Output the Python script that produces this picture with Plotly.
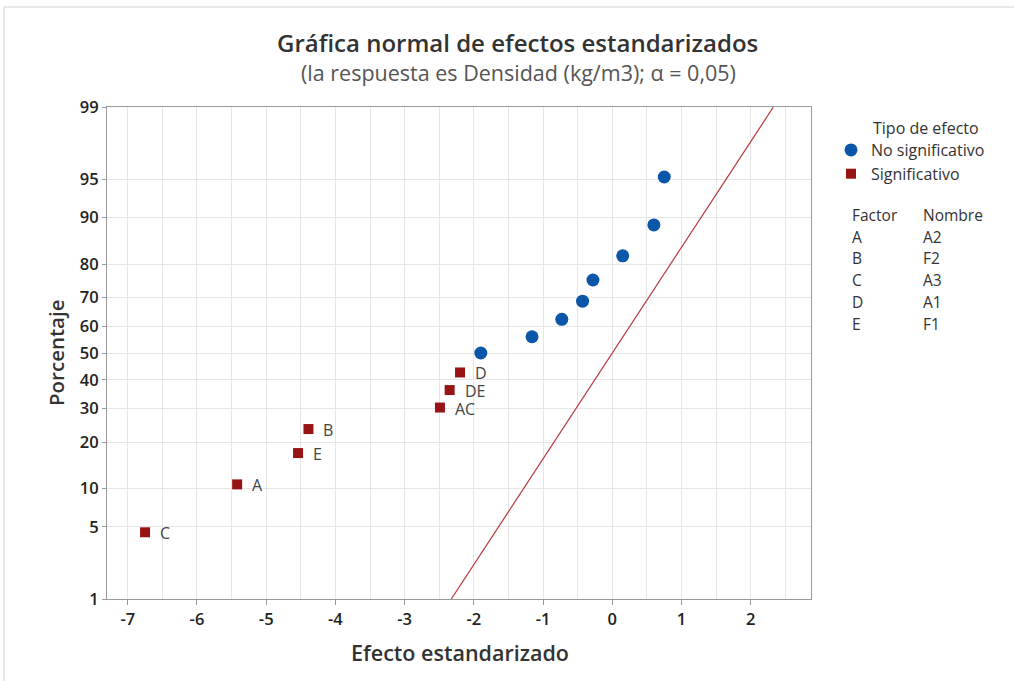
from statistics import NormalDist
import plotly.graph_objects as go

# Standardized effects (x) and their normal plotting positions (%)
effects_ns = [-1.90, -1.16, -0.73, -0.43, -0.28, 0.15, 0.60, 0.75]
pct_ns = [50.0, 56.1, 62.5, 68.8, 75.5, 82.1, 88.7, 95.2]

effects_sig = [-6.75, -5.42, -4.54, -4.39, -2.49, -2.35, -2.20]
pct_sig = [4.5, 10.7, 17.2, 23.6, 30.3, 36.3, 42.7]
labels_sig = ["C", "A", "E", "B", "AC", "DE", "D"]

# Reference line: standard normal (mean 0, sd 1)
line_pct = [1, 99]

y_ticks = [1, 5, 10, 20, 30, 40, 50, 60, 70, 80, 90, 95, 99]
x_ticks = [-7, -6, -5, -4, -3, -2, -1, 0, 1, 2]

factors = ["A", "B", "C", "D", "E"]
names = ["A2", "F2", "A3", "A1", "F1"]

nd = NormalDist()


def probit(p):
    return nd.inv_cdf(p / 100.0)


W, H = 1014, 681
L, R, T, B = 107, 811, 107, 599


def px(x):
    return (x - L) / (R - L)


def py(y):
    return (B - y) / (B - T)


FONT = "Open Sans"
BLUE = "#0A56A8"
RED = "#981414"
TXT = "#333333"

fig = go.Figure()

line_z = [probit(p) for p in line_pct]
fig.add_trace(go.Scatter(
    x=line_z, y=line_z, mode="lines",
    line=dict(color="#B8393C", width=1.2),
    showlegend=False, hoverinfo="skip",
))

fig.add_trace(go.Scatter(
    x=effects_ns, y=[probit(p) for p in pct_ns], mode="markers",
    marker=dict(symbol="circle", size=13, color=BLUE),
    name="No significativo",
))

fig.add_trace(go.Scatter(
    x=effects_sig, y=[probit(p) for p in pct_sig], mode="markers",
    marker=dict(symbol="square", size=10, color=RED),
    name="Significativo",
))

annotations = []
for ex, p, lab in zip(effects_sig, pct_sig, labels_sig):
    annotations.append(dict(
        x=ex, y=probit(p), xref="x", yref="y", text=lab, showarrow=False,
        xanchor="left", yanchor="middle", xshift=13, yshift=-1,
        font=dict(family=FONT, size=16, color="#444444"),
    ))

# Titles
annotations.append(dict(
    x=px(517), y=py(43), xref="paper", yref="paper", showarrow=False,
    text="Gráfica normal de efectos estandarizados",
    font=dict(family=FONT, size=24, color=TXT, weight=600),
    xanchor="center", yanchor="middle",
))
annotations.append(dict(
    x=px(518), y=py(72), xref="paper", yref="paper", showarrow=False,
    text="(la respuesta es Densidad (kg/m3); α = 0,05)",
    font=dict(family=FONT, size=21.5, color="#555555"),
    xanchor="center", yanchor="middle",
))
annotations.append(dict(
    x=px(56), y=py(353), xref="paper", yref="paper", showarrow=False,
    text="Porcentaje", textangle=-90,
    font=dict(family=FONT, size=20.5, color=TXT, weight=600),
    xanchor="center", yanchor="middle",
))
annotations.append(dict(
    x=px(460), y=py(652), xref="paper", yref="paper", showarrow=False,
    text="Efecto estandarizado",
    font=dict(family=FONT, size=21.5, color=TXT, weight=600),
    xanchor="center", yanchor="middle",
))

# Legend title and factor table
annotations.append(dict(
    x=px(871), y=py(128), xref="paper", yref="paper", showarrow=False,
    text="Tipo de efecto", xanchor="left", yanchor="middle",
    font=dict(family=FONT, size=16, color=TXT),
))
table_rows = [("Factor", "Nombre")] + list(zip(factors, names))
for i, (f, n) in enumerate(table_rows):
    yy = 215 + i * 21.7
    annotations.append(dict(
        x=px(850), y=py(yy), xref="paper", yref="paper", showarrow=False,
        text=f, xanchor="left", yanchor="middle",
        font=dict(family=FONT, size=15.5, color=TXT),
    ))
    annotations.append(dict(
        x=px(921), y=py(yy), xref="paper", yref="paper", showarrow=False,
        text=n, xanchor="left", yanchor="middle",
        font=dict(family=FONT, size=15.5, color=TXT),
    ))

shapes = [dict(
    type="rect", xref="paper", yref="paper",
    x0=px(4), x1=px(1030), y0=py(700), y1=py(7),
    line=dict(color="#D4D4D4", width=1), fillcolor="rgba(0,0,0,0)", layer="below",
)]

fig.update_layout(
    width=W, height=H,
    margin=dict(l=L, r=W - R, t=T, b=H - B),
    paper_bgcolor="white", plot_bgcolor="white",
    font=dict(family=FONT, size=14, color="#222222"),
    showlegend=True,
    legend=dict(
        x=px(831), y=py(133), xanchor="left", yanchor="top",
        font=dict(family=FONT, size=16, color=TXT),
        bgcolor="rgba(0,0,0,0)", borderwidth=0, tracegroupgap=0,
        itemsizing="trace",
    ),
    annotations=annotations,
    shapes=shapes,
    xaxis=dict(
        range=[-7.3, 2.87], tickvals=x_ticks, ticktext=[str(v) for v in x_ticks],
        showgrid=True, gridcolor="#E6E6E6", gridwidth=1,
        minor=dict(dtick=0.5, tick0=0, showgrid=True, gridcolor="#E6E6E6", ticklen=0),
        showline=True, linecolor="#9A9A9A", linewidth=1, mirror=True,
        ticks="outside", ticklen=5, tickcolor="#9A9A9A",
        tickfont=dict(family=FONT, size=16.5, color="#222222", weight=600),
        zeroline=False,
    ),
    yaxis=dict(
        range=[probit(1), probit(99)],
        tickvals=[probit(v) for v in y_ticks], ticktext=[str(v) for v in y_ticks],
        showgrid=True, gridcolor="#E6E6E6", gridwidth=1,
        showline=True, linecolor="#9A9A9A", linewidth=1, mirror=True,
        ticks="outside", ticklen=4, tickcolor="#9A9A9A",
        tickfont=dict(family=FONT, size=16.5, color="#222222", weight=600),
        zeroline=False,
    ),
)

fig.write_html("out.html")
